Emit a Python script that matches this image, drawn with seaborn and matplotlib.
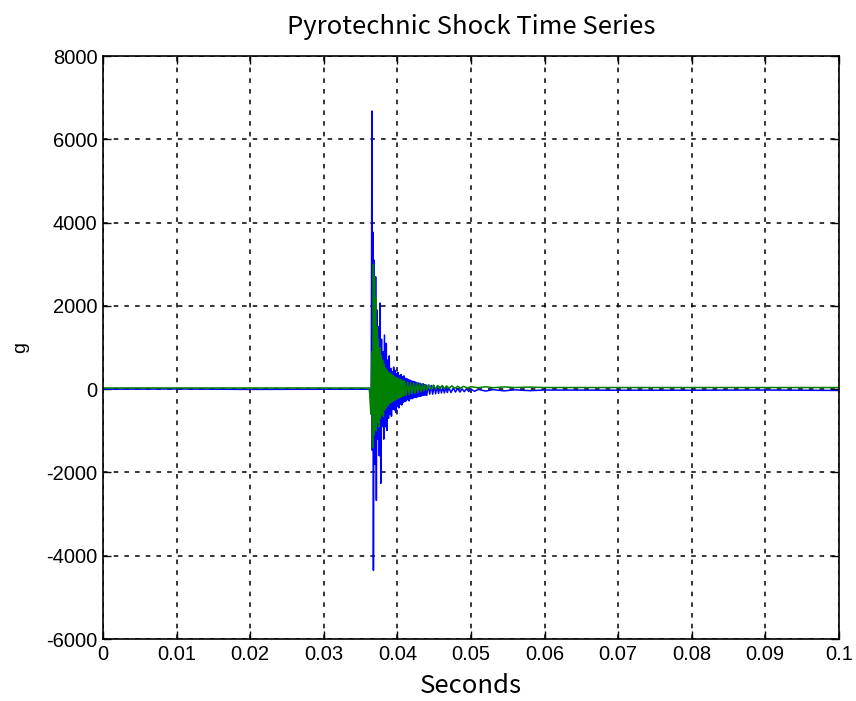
import pandas as pd
import matplotlib
matplotlib.use('Agg')
import matplotlib.pyplot as plt
import seaborn as sns

# blue channel
blue_t = [0.0, 0.0100, 0.0200, 0.0300, 0.0362, 0.03645, 0.03655, 0.03660, 0.03668, 0.03675,
          0.03685, 0.03695, 0.03705, 0.03715, 0.03725, 0.03735, 0.03745, 0.03755, 0.03765, 0.03775,
          0.03785, 0.03795, 0.03805, 0.03815, 0.03825, 0.0384, 0.0385, 0.0386, 0.0387, 0.0388,
          0.0389, 0.0390, 0.0391, 0.0392, 0.0393, 0.0394, 0.0395, 0.0396, 0.0397, 0.0398,
          0.0399, 0.0400, 0.0401, 0.0402, 0.0403, 0.0404, 0.0405, 0.0406, 0.0407, 0.0408,
          0.0409, 0.0410, 0.0411, 0.0412, 0.0413, 0.0414, 0.0415, 0.0416, 0.0417, 0.0418,
          0.0419, 0.0420, 0.0421, 0.0422, 0.0423, 0.0424, 0.0425, 0.0426, 0.0427, 0.0428,
          0.0429, 0.0430, 0.0431, 0.0432, 0.0433, 0.0434, 0.0435, 0.0436, 0.0437, 0.0438,
          0.0439, 0.0440, 0.0442, 0.0444, 0.0446, 0.0448, 0.0450, 0.0452, 0.0454, 0.0456,
          0.0458, 0.0460, 0.0462, 0.0464, 0.0466, 0.0468, 0.0470, 0.0473, 0.0476, 0.0479,
          0.0482, 0.0485, 0.0488, 0.0491, 0.0494, 0.0497, 0.0500, 0.0505, 0.0510, 0.0520,
          0.0530, 0.0545, 0.0560, 0.0580, 0.0600, 0.0700, 0.0800, 0.0900, 0.1000]
blue_g = [0, 5, -5, 0, 0, -300, 6680, -1470, 3770, -4350,
          3100, -1800, 2700, -2670, 1900, -1200, 1500, -1600, 2070, -2260,
          1200, -900, 900, -1200, 1300, -900, 1100, -990, 700, -700,
          800, -600, 500, -650, 420, -480, 530, -500, 450, -560,
          380, -420, 400, -450, 330, -360, 350, -380, 300, -320,
          320, -300, 260, -280, 250, -250, 230, -280, 220, -230,
          200, -230, 190, -210, 180, -200, 170, -200, 150, -180,
          150, -170, 140, -170, 120, -150, 130, -150, 110, -140,
          100, -150, 100, -120, 90, -120, 80, -110, 70, -100,
          60, -90, 50, -90, 50, -80, 40, -80, 30, -70,
          20, -70, 10, -60, 10, -55, 0, -50, -5, -45,
          -10, -40, -15, -35, -20, -25, -25, -20, -30]

# green channel
green_t = [0.0, 0.0100, 0.0200, 0.0300, 0.0362, 0.0364, 0.03655, 0.03665, 0.03675, 0.03683,
           0.0369, 0.03698, 0.03705, 0.03712, 0.0372, 0.0373, 0.0374, 0.0375, 0.0376, 0.0377,
           0.0378, 0.0379, 0.0380, 0.0381, 0.0382, 0.0383, 0.0384, 0.0385, 0.0386, 0.0387,
           0.0388, 0.0389, 0.0390, 0.0391, 0.0392, 0.0393, 0.0394, 0.0395, 0.0396, 0.0397,
           0.0398, 0.0399, 0.0400, 0.0401, 0.0402, 0.0403, 0.0404, 0.0405, 0.0406, 0.0407,
           0.0408, 0.0409, 0.0410, 0.0412, 0.0414, 0.0416, 0.0418, 0.0420, 0.0422, 0.0424,
           0.0426, 0.0428, 0.0430, 0.0432, 0.0434, 0.0436, 0.0438, 0.0440, 0.0443, 0.0446,
           0.0449, 0.0452, 0.0455, 0.0458, 0.0461, 0.0464, 0.0467, 0.0470, 0.0474, 0.0478,
           0.0482, 0.0486, 0.0490, 0.0495, 0.0500, 0.0510, 0.0520, 0.0530, 0.0545, 0.0560,
           0.0580, 0.0600, 0.0700, 0.0800, 0.0900, 0.1000]
green_g = [30, 30, 30, 30, 30, -600, 900, -1400, 3000, -1100,
           2700, -900, 2200, -1000, 1500, -800, 1200, -900, 1000, -700,
           800, -600, 700, -650, 600, -500, 500, -450, 450, -400,
           400, -350, 380, -330, 360, -300, 330, -280, 300, -260,
           280, -240, 260, -220, 250, -200, 230, -190, 220, -170,
           200, -160, 190, -150, 170, -130, 160, -110, 150, -100,
           140, -80, 130, -60, 120, -40, 110, -20, 100, 0,
           100, 0, 90, 10, 90, 10, 80, 20, 80, 20,
           70, 25, 70, 30, 60, 35, 60, 35, 55, 40,
           50, 40, 40, 40, 40, 40]

x_ticks = [0, 0.01, 0.02, 0.03, 0.04, 0.05, 0.06, 0.07, 0.08, 0.09, 0.1]
x_labels = ['0', '0.01', '0.02', '0.03', '0.04', '0.05', '0.06', '0.07', '0.08', '0.09', '0.1']
y_ticks = [-6000, -4000, -2000, 0, 2000, 4000, 6000, 8000]

sns.set_style('ticks')
plt.rcParams['font.family'] = ['Liberation Sans', 'DejaVu Sans']
plt.rcParams['axes.unicode_minus'] = False
plt.rcParams['text.color'] = 'black'
plt.rcParams['axes.labelcolor'] = 'black'

blue_df = pd.DataFrame({'t': blue_t, 'g': blue_g})
green_df = pd.DataFrame({'t': green_t, 'g': green_g})

fig = plt.figure(figsize=(8.56, 7.01), dpi=100)
ax = fig.add_axes([0.1203, 0.0884, 0.8597, 0.8316])

sns.lineplot(data=blue_df, x='t', y='g', ax=ax, color='#0000ff', lw=1.1,
             estimator=None, sort=False)
sns.lineplot(data=green_df, x='t', y='g', ax=ax, color='#008000', lw=1.1,
             estimator=None, sort=False)

ax.set_xlim(0, 0.1)
ax.set_ylim(-6000, 8000)
ax.set_xticks(x_ticks)
ax.set_xticklabels(x_labels)
ax.set_yticks(y_ticks)
ax.grid(True, color='black', linestyle=(0, (3, 4)), linewidth=1.1)
ax.tick_params(direction='in', length=6, width=1, top=True, right=True,
               labelsize=14.5, pad=4, colors='black')
for s in ax.spines.values():
    s.set_visible(True)
    s.set_color('black')
    s.set_linewidth(1.2)

cjk = ['Noto Sans CJK KR', 'DejaVu Sans']
ax.set_title('Pyrotechnic Shock Time Series', fontsize=18.5, family=cjk, pad=16,
             color='black')
ax.set_xlabel('Seconds', fontsize=18.5, family=cjk, labelpad=7)
ax.set_ylabel('g', fontsize=14, labelpad=12)

fig.savefig('out.png', dpi=100)
